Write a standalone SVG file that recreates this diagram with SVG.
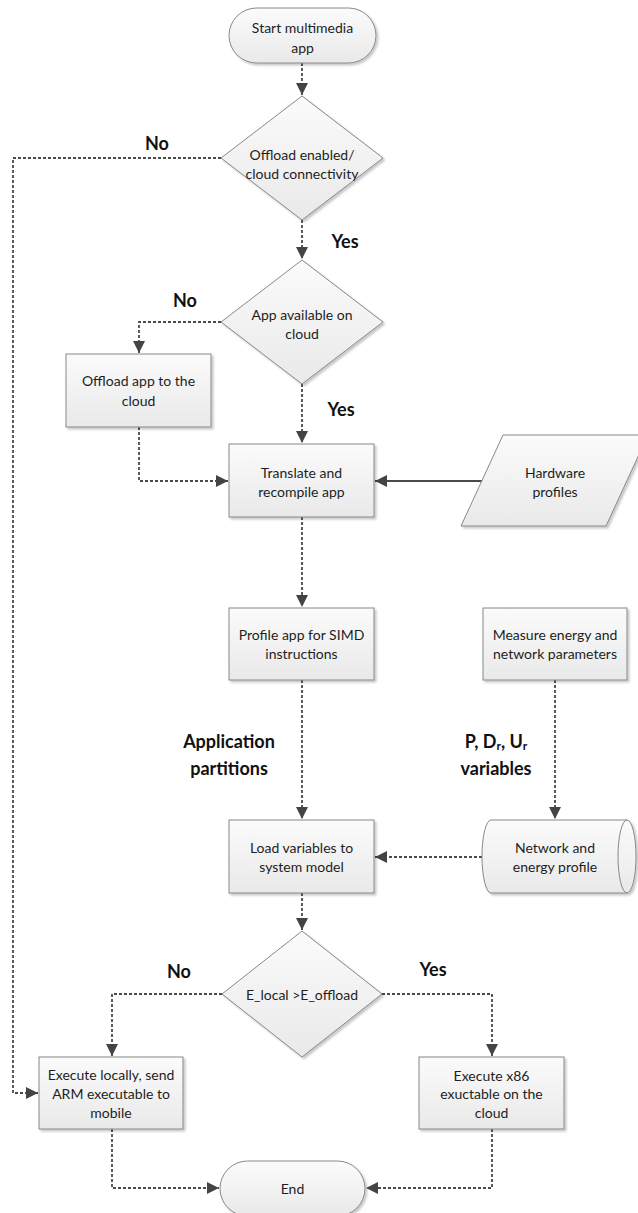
<svg xmlns="http://www.w3.org/2000/svg" width="638" height="1213" viewBox="0 0 638 1213">
  <style>
    .shape { fill: url(#fillGrad); stroke: #888; stroke-width: 1; filter: url(#shadow); }
    .line { fill: none; stroke: #4a4a4a; stroke-width: 1.8; stroke-dasharray: 3 2; }
    .solid { fill: none; stroke: #4a4a4a; stroke-width: 1.8; }
    .txt { font-family: Lato, "Liberation Sans", sans-serif; font-size: 14px; fill: #1e1e1e; text-anchor: middle; dominant-baseline: central; }
    .lbl { font-family: Lato, "Liberation Sans", sans-serif; font-size: 18px; font-weight: bold; fill: #111; text-anchor: middle; dominant-baseline: central; }
  </style>
  <defs>
    <linearGradient id="fillGrad" x1="0" y1="0" x2="0" y2="1">
      <stop offset="0" stop-color="#fbfbfb"/>
      <stop offset="1" stop-color="#e9e9e9"/>
    </linearGradient>
    <filter id="shadow" x="-10%" y="-10%" width="130%" height="130%">
      <feDropShadow dx="2" dy="2" stdDeviation="1" flood-color="#000" flood-opacity="0.22"/>
    </filter>
    <marker id="arrowBig" viewBox="0 0 12 12" refX="12" refY="6" markerWidth="12" markerHeight="12" markerUnits="userSpaceOnUse" orient="auto">
      <path d="M0,0 L12,6 L0,12 Z" fill="#444"/>
    </marker>
  </defs>

  <!-- connectors -->
  <g id="connectors">
    <path class="line" d="M302,63 V95" marker-end="url(#arrowBig)"/>
    <path class="line" d="M221,158 H13 V1093 H38" marker-end="url(#arrowBig)"/>
    <path class="line" d="M302,220 V259" marker-end="url(#arrowBig)"/>
    <path class="line" d="M221,322 H139 V353" marker-end="url(#arrowBig)"/>
    <path class="line" d="M302,384 V443" marker-end="url(#arrowBig)"/>
    <path class="line" d="M139,427 V481 H228" marker-end="url(#arrowBig)"/>
    <path class="solid" d="M483,481 H375" marker-end="url(#arrowBig)"/>
    <path class="line" d="M302,517 V607" marker-end="url(#arrowBig)"/>
    <path class="line" d="M302,680 V819" marker-end="url(#arrowBig)"/>
    <path class="line" d="M555,680 V819" marker-end="url(#arrowBig)"/>
    <path class="line" d="M482,857 H375" marker-end="url(#arrowBig)"/>
    <path class="line" d="M302,893 V930" marker-end="url(#arrowBig)"/>
    <path class="line" d="M222,994 H112 V1056" marker-end="url(#arrowBig)"/>
    <path class="line" d="M382,994 H492 V1056" marker-end="url(#arrowBig)"/>
    <path class="line" d="M112,1129 V1188 H219" marker-end="url(#arrowBig)"/>
    <path class="line" d="M492,1129 V1188 H366" marker-end="url(#arrowBig)"/>
  </g>

  <!-- branch labels -->
  <g id="labels">
    <text class="lbl" x="157" y="143">No</text>
    <text class="lbl" x="345" y="241">Yes</text>
    <text class="lbl" x="185" y="300">No</text>
    <text class="lbl" x="341" y="409">Yes</text>
    <text class="lbl" x="229" y="741">Application</text>
    <text class="lbl" x="229" y="768">partitions</text>
    <text class="lbl" x="496" y="741">P, D<tspan font-size="12" dy="4">r</tspan><tspan dy="-4">, U</tspan><tspan font-size="12" dy="4">r</tspan></text>
    <text class="lbl" x="496" y="768">variables</text>
    <text class="lbl" x="179" y="971">No</text>
    <text class="lbl" x="433" y="969">Yes</text>
  </g>

  <g id="start">
    <rect class="shape" x="229" y="8" width="147" height="55" rx="27.5" ry="27.5"/>
    <text class="txt" x="302.5" y="27">Start multimedia</text>
    <text class="txt" x="302.5" y="47">app</text>
  </g>

  <g id="offload-enabled">
    <polygon class="shape" points="302,96 383,158 302,220 221,158"/>
    <text class="txt" x="302" y="154">Offload enabled/</text>
    <text class="txt" x="302" y="173">cloud connectivity</text>
  </g>

  <g id="app-available">
    <polygon class="shape" points="302,260 383,322 302,384 221,322"/>
    <text class="txt" x="302" y="314">App available on</text>
    <text class="txt" x="302" y="333">cloud</text>
  </g>

  <g id="offload-app">
    <rect class="shape" x="66" y="354" width="145" height="73"/>
    <text class="txt" x="138.5" y="380">Offload app to the</text>
    <text class="txt" x="138.5" y="400">cloud</text>
  </g>

  <g id="translate">
    <rect class="shape" x="229" y="444" width="145" height="73"/>
    <text class="txt" x="301.5" y="472">Translate and</text>
    <text class="txt" x="301.5" y="491">recompile app</text>
  </g>

  <g id="hardware-profiles">
    <polygon class="shape" points="503,435 648,435 606,526 461,526"/>
    <text class="txt" x="555" y="472">Hardware</text>
    <text class="txt" x="555" y="491">profiles</text>
  </g>

  <g id="profile-simd">
    <rect class="shape" x="229" y="608" width="145" height="72"/>
    <text class="txt" x="301.5" y="634">Profile app for SIMD</text>
    <text class="txt" x="301.5" y="653">instructions</text>
  </g>

  <g id="measure">
    <rect class="shape" x="483" y="608" width="144" height="72"/>
    <text class="txt" x="555" y="634">Measure energy and</text>
    <text class="txt" x="555" y="653">network parameters</text>
  </g>

  <g id="load-variables">
    <rect class="shape" x="229" y="820" width="145" height="73"/>
    <text class="txt" x="301.5" y="847">Load variables to</text>
    <text class="txt" x="301.5" y="866">system model</text>
  </g>

  <g id="network-energy-profile">
    <path class="shape" d="M491,820 H627 A9,36.5 0 0 1 627,893 H491 A9,36.5 0 0 1 491,820 Z"/>
    <path d="M627,820 A9,36.5 0 0 0 627,893" fill="none" stroke="#888" stroke-width="1"/>
    <text class="txt" x="555" y="847">Network and</text>
    <text class="txt" x="555" y="866">energy profile</text>
  </g>

  <g id="energy-decision">
    <polygon class="shape" points="302,931 382,994 302,1057 222,994"/>
    <text class="txt" x="302" y="994">E_local &gt;E_offload</text>
  </g>

  <g id="execute-local">
    <rect class="shape" x="39" y="1057" width="144" height="72"/>
    <text class="txt" x="111" y="1074">Execute locally, send</text>
    <text class="txt" x="111" y="1093">ARM executable to</text>
    <text class="txt" x="111" y="1112">mobile</text>
  </g>

  <g id="execute-cloud">
    <rect class="shape" x="419" y="1057" width="145" height="72"/>
    <text class="txt" x="491.5" y="1075">Execute x86</text>
    <text class="txt" x="491.5" y="1093">exuctable on the</text>
    <text class="txt" x="491.5" y="1112">cloud</text>
  </g>

  <g id="end">
    <rect class="shape" x="220" y="1161" width="145" height="55" rx="27.5" ry="27.5"/>
    <text class="txt" x="292.5" y="1188">End</text>
  </g>
</svg>
